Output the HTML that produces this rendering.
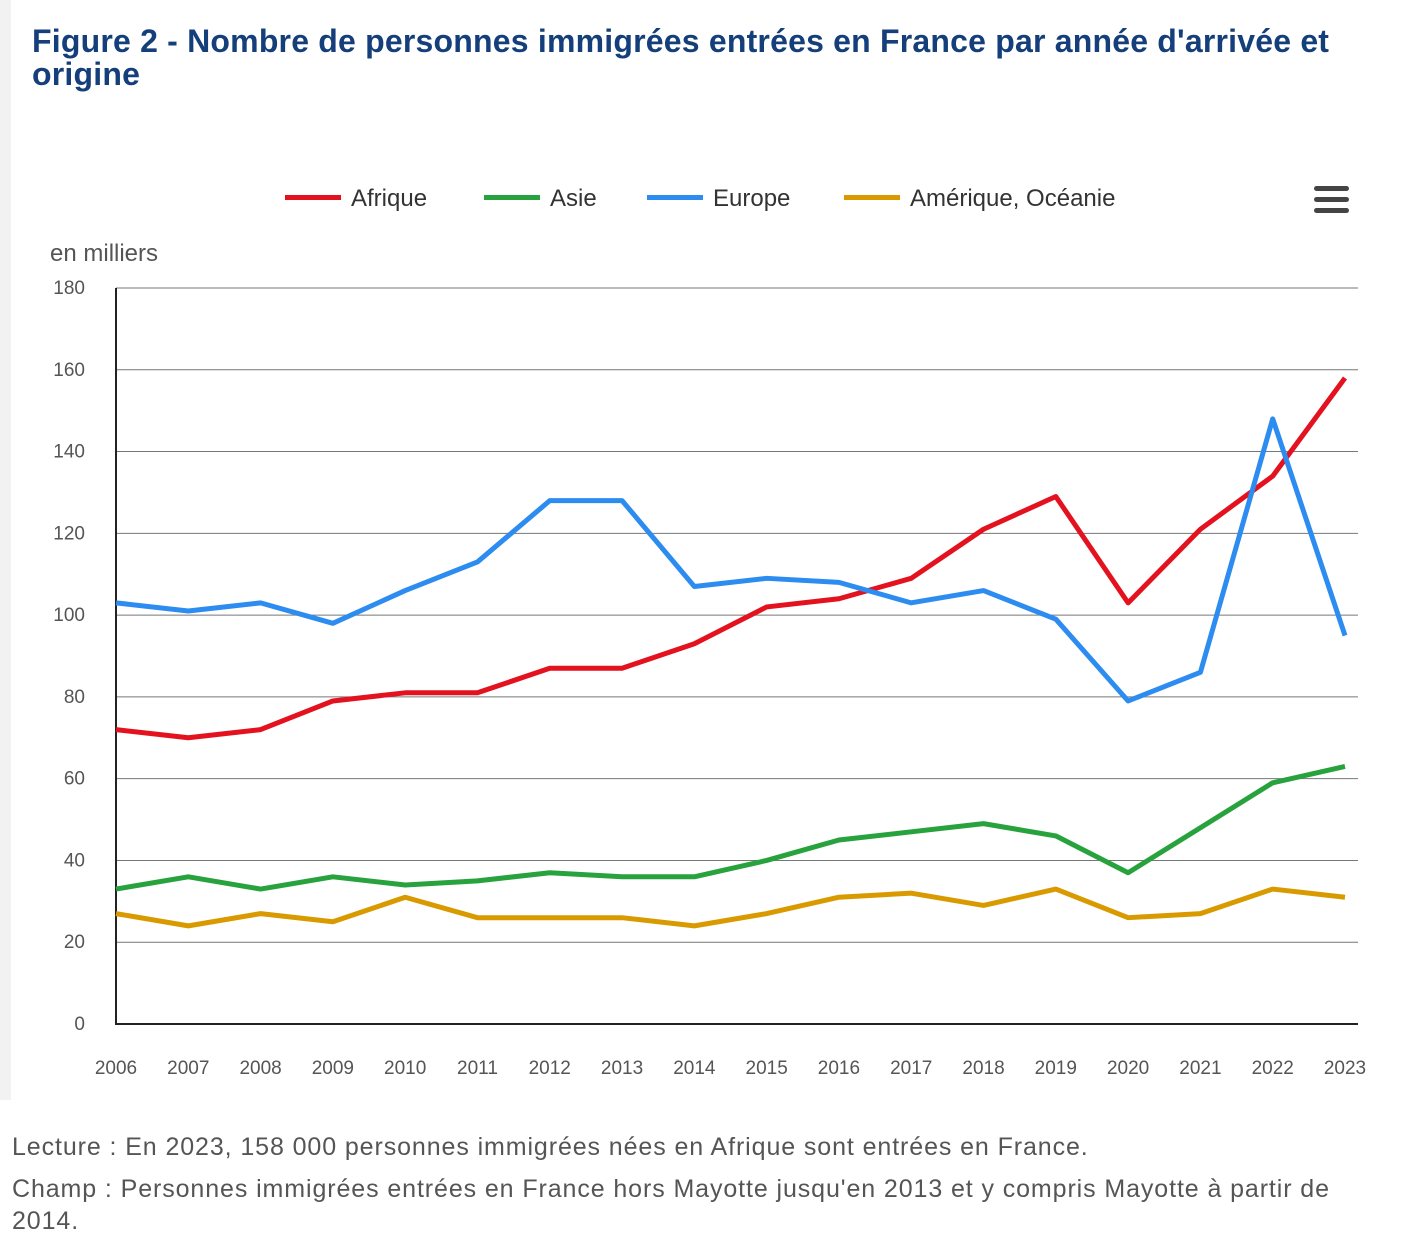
<!DOCTYPE html>
<html><head><meta charset="utf-8"><style>
body{margin:0;width:1406px;height:1238px;background:#fff;font-family:"Liberation Sans",sans-serif;position:relative;overflow:hidden}
#strip{position:absolute;left:0;top:0;width:11px;height:1100px;background:#f2f2f2}
#title{position:absolute;left:32px;top:25px;font-size:32px;line-height:33px;color:#143f7a;font-weight:bold;width:1370px;letter-spacing:0.2px}
.foot{position:absolute;left:12px;font-size:25px;color:#555;line-height:32px;letter-spacing:0.9px;white-space:nowrap}
svg{position:absolute;left:0;top:0}
</style></head><body>
<div id="strip"></div>
<div id="title">Figure 2 - Nombre de personnes immigrées entrées en France par année d'arrivée et<br>origine</div>
<svg id="chart" width="1406" height="1100"></svg>
<div class="foot" style="top:1131px">Lecture : En 2023, 158 000 personnes immigrées nées en Afrique sont entrées en France.</div>
<div class="foot" style="top:1173px">Champ : Personnes immigrées entrées en France hors Mayotte jusqu'en 2013 et y compris Mayotte à partir de<br>2014.</div>
<script>
const years=[2006,2007,2008,2009,2010,2011,2012,2013,2014,2015,2016,2017,2018,2019,2020,2021,2022,2023];
const afrique=[72,70,72,79,81,81,87,87,93,102,104,109,121,129,103,121,134,158];
const asie=[33,36,33,36,34,35,37,36,36,40,45,47,49,46,37,48,59,63];
const europe=[103,101,103,98,106,113,128,128,107,109,108,103,106,99,79,86,148,95];
const amerique=[27,24,27,25,31,26,26,26,24,27,31,32,29,33,26,27,33,31];
const yTicks=[0,20,40,60,80,100,120,140,160,180];
const seriesNames=["Afrique","Asie","Europe","Amérique, Océanie"];
const colors=["#e3121e","#28a23c","#2d8cf0","#d99a00"];
const svg=document.getElementById('chart');const NS="http://www.w3.org/2000/svg";
const x0=116,x1=1345,yb=1024,yt=288,ymax=180;
const X=i=>x0+(x1-x0)*i/(years.length-1);
const Y=v=>yb-(yb-yt)*v/ymax;
function mk(t,a){const e=document.createElementNS(NS,t);for(const k in a)e.setAttribute(k,a[k]);svg.appendChild(e);return e;}
yTicks.forEach(v=>{
 if(v>0){const l=mk('line',{x1:x0,x2:1358,y1:Y(v),y2:Y(v),stroke:'#777','stroke-width':1});
 
 }
 const t=mk('text',{x:85,y:Y(v)+6,'text-anchor':'end','font-size':19,fill:'#555'});t.textContent=v;
 
 
});
years.forEach((y,i)=>{const t=mk('text',{x:X(i),y:1074,'text-anchor':'middle','font-size':19,fill:'#555'});t.textContent=y;
 
 });
let ax=mk('path',{d:`M${x0} ${yt}V${yb}H1358`,stroke:'#222','stroke-width':2,fill:'none'});


let yl=mk('text',{x:50,y:261,'font-size':24,fill:'#555'});yl.textContent='en milliers';


[afrique,asie,europe,amerique].forEach((s,k)=>{
 const p=mk('polyline',{points:s.map((v,i)=>X(i)+','+Y(v)).join(' '),fill:'none',stroke:colors[k],'stroke-width':5,'stroke-linejoin':'round'});
 
 
});
const lx=[285,484,647,844];
seriesNames.forEach((n,k)=>{
 const g=mk('g',{});
 
 
 const l=document.createElementNS(NS,'rect');l.setAttribute('x',lx[k]);l.setAttribute('y',195);l.setAttribute('width',56);l.setAttribute('height',5);l.setAttribute('fill',colors[k]);g.appendChild(l);
 const t=document.createElementNS(NS,'text');t.setAttribute('x',lx[k]+66);t.setAttribute('y',206);t.setAttribute('font-size',24);t.setAttribute('fill','#333');t.textContent=n;g.appendChild(t);
});
const m=mk('g',{});


[188,199,210].forEach(y=>{const r=document.createElementNS(NS,'rect');r.setAttribute('x',1314);r.setAttribute('y',y-2);r.setAttribute('width',35);r.setAttribute('height',5);r.setAttribute('rx',2.5);r.setAttribute('fill','#444');m.appendChild(r);});
</script>
</body></html>
